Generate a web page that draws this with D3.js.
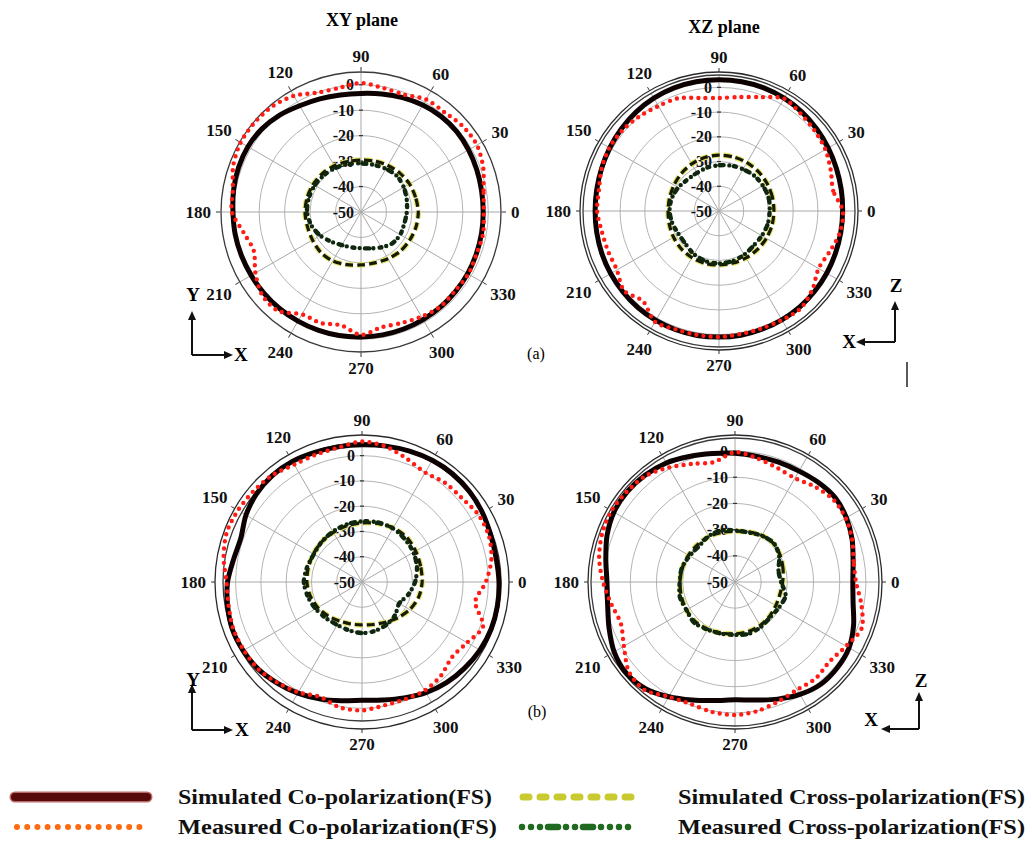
<!DOCTYPE html>
<html>
<head>
<meta charset="utf-8">
<script src="https://cdn.jsdelivr.net/npm/d3@7"></script>
<style>
  body { margin: 0; background: #fff; }
  text { font-family: 'Liberation Serif', 'Times New Roman', serif; }
</style>
</head>
<body>
<div id="chart"></div>
<script>
//
// data: angles (deg) and gains (dB)
//
var angles10 = [0, 10, 20, 30, 40, 50, 60, 70, 80, 90, 100, 110, 120, 130, 140, 150, 160, 170,
                180, 190, 200, 210, 220, 230, 240, 250, 260, 270, 280, 290, 300, 310, 320, 330, 340, 350]
var angles15 = [0, 15, 30, 45, 60, 75, 90, 105, 120, 135, 150, 165,
                180, 195, 210, 225, 240, 255, 270, 285, 300, 315, 330, 345]
var angleTicks = [0, 30, 60, 90, 120, 150, 180, 210, 240, 270, 300, 330]
var dbTicks = [0, -10, -20, -30, -40, -50]
var titles = ['XY plane', 'XZ plane']
var legendLabels = ['Simulated Co-polarization(FS)', 'Simulated Cross-polarization(FS)',
                    'Measured Co-polarization(FS)', 'Measured Cross-polarization(FS)']
//
// (a) XY plane
//
var simCoXYa = [-2.0, -1.9, -1.6, -1.2, -0.9, -1.0, -1.5, -2.2, -2.9, -3.4, -3.3, -2.7, -1.8, -0.3, 0.8, 1.3, 1.2, 0.8,
                0.3, 0.2, 0.0, -0.2, -0.3, -0.4, -0.5, -0.6, -0.7, -0.9, -1.0, -1.1, -1.2, -1.3, -1.5, -1.6, -1.8, -1.9]
var measCoXYa = [-1.8, -1.1, 1.1, 2.6, 2.3, 1.1, 1.1, -0.9, -0.5, 0.7, -0.5, -0.1, 2.7, 4.2, 4.6, 4.6, 3.4, 1.1,
                 0.7, -3.2, -5.2, -2.1, 0.7, 0.7, -3.6, -3.6, -4.8, -1.7, -4.0, -3.6, -2.5, -1.5, -1.8, -1.3, -1.7, -1.3]
var simCrossXYa = [-27.5, -27.8, -28.0, -28.4, -28.9, -29.3, -29.6, -29.5, -29.0, -28.6, -28.3, -28.1,
                   -28.0, -28.2, -28.0, -27.6, -27.8, -28.6, -29.2, -29.3, -28.8, -28.2, -27.9, -27.6]
var measCrossXYa = [-32.0, -31.4, -30.6, -30.0, -30.4, -30.8, -30.9, -30.5, -30.0, -29.5, -29.0, -28.8,
                    -28.8, -29.8, -31.5, -33.5, -35.0, -35.6, -35.8, -35.2, -34.0, -32.6, -32.2, -32.4]
//
// (a) XZ plane
//
var simCoXZa = [0.0, 0.2, 0.5, 1.0, 1.6, 2.2, 2.7, 3.0, 3.1, 3.1, 3.1, 3.0, 2.7, 2.2, 1.6, 1.0, 0.5, 0.2,
                0.1, 0.2, 0.4, 0.6, 0.8, 1.0, 1.1, 1.1, 1.1, 1.0, 1.0, 0.9, 0.8, 0.7, 0.5, 0.3, 0.1, 0.0]
var measCoXZa = [0.1, -3.1, -1.9, -0.3, 0.5, 1.4, 2.5, -1.0, -3.2, -4.3, -3.6, -1.5, -1.0, 0.0, 0.9, 1.2, 0.5, -0.7,
                 -0.7, -1.9, -2.3, -2.3, 0.1, -2.3, 1.8, 0.9, 0.9, 0.9, 0.5, 0.5, 0.9, 1.4, -0.7, -3.5, -2.3, -0.3]
var simCrossXZa = [-27.8, -27.7, -27.6, -27.5, -27.4, -27.4, -27.4, -27.6, -28.0, -28.5, -29.0, -29.3,
                   -29.4, -29.2, -28.8, -28.4, -28.2, -28.1, -28.2, -28.2, -28.1, -28.0, -27.9, -27.8]
var measCrossXZa = [-29.5, -29.2, -29.5, -29.8, -30.5, -31.0, -31.5, -31.8, -32.2, -32.0, -31.0, -30.2,
                    -30.0, -30.5, -31.2, -31.0, -29.8, -29.0, -28.8, -29.0, -29.6, -30.2, -30.0, -29.6]
//
// (b) XY plane
//
var simCoXYb = [4.2, 3.9, 4.2, 5.0, 5.6, 5.8, 5.6, 5.1, 4.6, 4.3, 4.3, 4.6, 5.1, 5.1, 4.4, 3.0, 1.0, 1.6,
                3.2, 4.0, 4.6, 4.3, 3.6, 2.2, 0.8, -0.8, -2.3, -3.2, -2.6, -1.2, 0.6, 2.0, 3.0, 3.9, 4.4, 4.4]
var measCoXYb = [-1.0, 2.0, 3.4, 3.2, 1.6, 1.2, 0.0, 1.9, 4.4, 5.6, 4.0, 3.6, 3.6, 5.2, 6.0, 6.7, 7.0, 5.6,
                 3.6, 3.6, 4.2, 4.0, 3.6, 2.0, 0.4, -1.6, 0.4, 0.8, -0.4, -0.6, -0.4, -1.5, -3.6, -2.0, 1.0, -4.5]
var simCrossXYb = [-26.2, -26.0, -25.5, -25.0, -25.3, -26.0, -26.6, -27.0, -27.3, -27.5, -27.8, -28.0,
                   -28.2, -28.8, -29.8, -31.0, -32.2, -32.8, -33.0, -32.6, -31.6, -30.0, -28.2, -26.8]
var measCrossXYb = [-29.0, -27.5, -26.5, -26.0, -25.5, -25.6, -26.0, -26.4, -27.0, -27.5, -28.0, -27.5,
                    -27.0, -27.8, -28.8, -29.8, -30.4, -30.2, -29.8, -30.0, -30.6, -31.5, -33.0, -31.0]
//
// (b) XZ plane
//
var simCoXZb = [-5.0, -4.2, -2.4, -0.9, 0.0, -0.4, -1.1, -1.3, -1.3, -0.8, -0.2, 1.0, 2.5, 3.3, 3.7, 3.4, 2.0, 0.1,
                -1.1, -0.6, 1.2, 3.3, 4.2, 3.2, 0.6, -2.0, -4.0, -5.0, -4.2, -2.4, -0.4, 1.0, 1.0, 0.3, -1.8, -4.2]
var measCoXZb = [-3.8, -4.0, -2.4, -1.2, -1.0, -2.5, -4.2, -3.5, -2.0, -0.4, -3.5, -2.0, 0.5, 3.0, 3.8, 4.5, 4.0, 2.7,
                 0.4, -2.0, -3.6, -1.0, 3.0, 3.8, 0.6, -0.4, 0.4, 0.8, 0.0, -1.5, -2.5, -2.0, -2.8, -1.0, 1.5, -1.0]
var simCrossXZb = [-31.8, -31.0, -30.0, -29.2, -29.5, -30.2, -30.6, -30.4, -30.0, -29.8, -29.5, -29.2,
                   -29.0, -28.8, -28.6, -28.6, -29.2, -29.8, -30.2, -30.4, -30.8, -31.4, -32.0, -32.2]
var measCrossXZb = [-32.4, -32.8, -30.5, -29.0, -29.6, -30.4, -30.3, -29.6, -29.8, -30.6, -30.0, -29.0,
                    -28.9, -28.2, -28.6, -28.0, -29.0, -29.6, -29.8, -29.5, -30.2, -31.0, -30.6, -30.0]
//
// layout of the four polar panels
//
var panels = [
  {cx: 361, cy: 212, rmax: 140, frame: 141, sim: simCoXYa, meas: measCoXYa, simX: simCrossXYa, measX: measCrossXYa},
  {cx: 719, cy: 211, rmax: 136, frame: 139, sim: simCoXZa, meas: measCoXZa, simX: simCrossXZa, measX: measCrossXZa},
  {cx: 362, cy: 582, rmax: 139, frame: 147, sim: simCoXYb, meas: measCoXYb, simX: simCrossXYb, measX: measCrossXYb},
  {cx: 735, cy: 582, rmax: 144, frame: 147, sim: simCoXZb, meas: measCoXZb, simX: simCrossXZb, measX: measCrossXZb}
]

var svg = d3.select('#chart').append('svg')
  .attr('width', 1032)
  .attr('height', 841)
  .style('display', 'block')

var rad = function(a) { return a * Math.PI / 180 }

//
// one polar panel
//
function drawPanel(p) {
  var g = svg.append('g').attr('transform', 'translate(' + p.cx + ',' + p.cy + ')')
  var r = d3.scaleLinear().domain([-50, 5]).range([0, p.rmax])
  var outer = Math.max(p.frame, p.rmax)

  // grid rings
  g.selectAll('circle.ring').data(dbTicks.filter(function(d) { return d > -50 }))
    .enter().append('circle')
    .attr('r', function(d) { return r(d) })
    .attr('fill', 'none').attr('stroke', '#b4b4b4').attr('stroke-width', 1)

  // spokes
  g.selectAll('line.spoke').data(angleTicks).enter().append('line')
    .attr('x1', 0).attr('y1', 0)
    .attr('x2', function(d) { return r(5) * Math.cos(rad(d)) })
    .attr('y2', function(d) { return -r(5) * Math.sin(rad(d)) })
    .attr('stroke', '#a8a8a8').attr('stroke-width', 1)

  // outer circles
  g.append('circle').attr('r', r(5)).attr('fill', 'none').attr('stroke', '#3a3a3a').attr('stroke-width', 1.3)
  if (p.frame - p.rmax > 2) {
    g.append('circle').attr('r', p.frame).attr('fill', 'none').attr('stroke', '#2a2a2a').attr('stroke-width', 1.3)
  }

  // ticks on outer circle
  g.selectAll('line.otick').data(angleTicks).enter().append('line')
    .attr('x1', function(d) { return outer * Math.cos(rad(d)) })
    .attr('y1', function(d) { return -outer * Math.sin(rad(d)) })
    .attr('x2', function(d) { return (outer + 4) * Math.cos(rad(d)) })
    .attr('y2', function(d) { return -(outer + 4) * Math.sin(rad(d)) })
    .attr('stroke', '#333').attr('stroke-width', 1)

  // small ticks on the 90 deg spoke
  g.selectAll('line.rtick').data(dbTicks.filter(function(d) { return d > -50 }))
    .enter().append('line')
    .attr('x1', -2).attr('x2', 2)
    .attr('y1', function(d) { return -r(d) }).attr('y2', function(d) { return -r(d) })
    .attr('stroke', '#333').attr('stroke-width', 1.2)

  // angle labels
  g.selectAll('text.ang').data(angleTicks).enter().append('text')
    .attr('font-size', 17).attr('font-weight', 'bold').attr('fill', '#111')
    .attr('text-anchor', 'middle')
    .text(function(d) { return d })
    .each(function(d) {
      var w = this.getComputedTextLength()
      var c = Math.cos(rad(d)), s = Math.sin(rad(d))
      var off = outer + 9 + Math.abs(c) * w / 2 + Math.abs(s) * 6
      d3.select(this).attr('x', off * c).attr('y', -off * s + 6)
    })

  // radial labels
  g.selectAll('text.db').data(dbTicks).enter().append('text')
    .attr('font-size', 16).attr('font-weight', 'bold').attr('fill', '#111')
    .attr('text-anchor', 'end')
    .attr('x', -7)
    .attr('y', function(d) { return -r(d) + 5.5 })
    .text(function(d) { return d })

  var line = function(angles) {
    return d3.lineRadial()
      .angle(function(d, i) { return rad(90 - angles[i]) })
      .radius(function(d) { return r(d) })
      .curve(d3.curveCardinalClosed.tension(0.15))
  }

  // simulated cross-polarization: yellow dashes with dark core
  g.append('path').attr('d', line(angles15)(p.simX))
    .attr('fill', 'none').attr('stroke', '#e4e46a').attr('stroke-width', 5.5)
    .attr('stroke-dasharray', '8 4')
  g.append('path').attr('d', line(angles15)(p.simX))
    .attr('fill', 'none').attr('stroke', '#161a05').attr('stroke-width', 3.2)
    .attr('stroke-dasharray', '8 4')

  // measured cross-polarization: dark dot-dash
  g.append('path').attr('d', line(angles15)(p.measX))
    .attr('fill', 'none').attr('stroke', '#0f260f').attr('stroke-width', 4.4)
    .attr('stroke-linecap', 'round')
    .attr('stroke-dasharray', '0 5.5 4 4.5 0 6 2 5')

  // simulated co-polarization
  g.append('path').attr('d', line(angles10)(p.sim))
    .attr('fill', 'none').attr('stroke', '#0c0000').attr('stroke-width', 5)

  // measured co-polarization: red dots
  g.append('path').attr('d', line(angles10)(p.meas))
    .attr('fill', 'none').attr('stroke', '#ff1c14').attr('stroke-width', 4.4)
    .attr('stroke-linecap', 'round')
    .attr('stroke-dasharray', '0 7.2')
}

panels.forEach(drawPanel)

//
// titles and panel tags
//
svg.append('text').attr('x', 362).attr('y', 26).attr('text-anchor', 'middle')
  .attr('font-size', 18).attr('font-weight', 'bold').text(titles[0])
svg.append('text').attr('x', 724).attr('y', 33).attr('text-anchor', 'middle')
  .attr('font-size', 18).attr('font-weight', 'bold').text(titles[1])
svg.append('text').attr('x', 536).attr('y', 359).attr('text-anchor', 'middle')
  .attr('font-size', 16).text('(a)')
svg.append('text').attr('x', 537).attr('y', 717).attr('text-anchor', 'middle')
  .attr('font-size', 16).text('(b)')
svg.append('line').attr('x1', 907).attr('x2', 907).attr('y1', 362).attr('y2', 387)
  .attr('stroke', '#222').attr('stroke-width', 1.5)

//
// coordinate arrows
//
function arrow(x1, y1, x2, y2) {
  var a = Math.atan2(y2 - y1, x2 - x1)
  var L = 9, W = 4
  svg.append('line').attr('x1', x1).attr('y1', y1)
    .attr('x2', x2 - Math.cos(a) * L * 0.6).attr('y2', y2 - Math.sin(a) * L * 0.6)
    .attr('stroke', '#111').attr('stroke-width', 2)
  var bx = x2 - Math.cos(a) * L, by = y2 - Math.sin(a) * L
  svg.append('path')
    .attr('d', 'M' + x2 + ',' + y2 +
      'L' + (bx - Math.sin(a) * W) + ',' + (by + Math.cos(a) * W) +
      'L' + (bx + Math.sin(a) * W) + ',' + (by - Math.cos(a) * W) + 'Z')
    .attr('fill', '#111')
}
function axisLabel(x, y, s, anchor) {
  svg.append('text').attr('x', x).attr('y', y).attr('text-anchor', anchor)
    .attr('font-size', 19).attr('font-weight', 'bold').text(s)
}
// (a) XY
arrow(192, 355, 192, 311); arrow(192, 355, 233, 355)
axisLabel(193, 301, 'Y', 'middle'); axisLabel(234, 361, 'X', 'start')
// (a) XZ
arrow(895, 342, 895, 301); arrow(895, 342, 856, 342)
axisLabel(896, 292, 'Z', 'middle'); axisLabel(856, 348, 'X', 'end')
// (b) XY
arrow(192, 730, 192, 684); arrow(192, 730, 233, 730)
axisLabel(193, 686, 'Y', 'middle'); axisLabel(235, 736, 'X', 'start')
// (b) XZ
arrow(919, 729, 919, 692); arrow(919, 729, 881, 729)
axisLabel(921, 687, 'Z', 'middle'); axisLabel(878, 726, 'X', 'end')

//
// legend
//
var lg = svg.append('g')
// simulated co-pol
lg.append('line').attr('x1', 15).attr('x2', 147).attr('y1', 797).attr('y2', 797)
  .attr('stroke', '#b86a6a').attr('stroke-width', 11).attr('stroke-linecap', 'round')
lg.append('line').attr('x1', 15).attr('x2', 147).attr('y1', 797).attr('y2', 797)
  .attr('stroke', '#560a0a').attr('stroke-width', 8).attr('stroke-linecap', 'round')
// simulated cross-pol
lg.append('line').attr('x1', 523).attr('x2', 640).attr('y1', 797).attr('y2', 797)
  .attr('stroke', '#c9c930').attr('stroke-width', 7).attr('stroke-linecap', 'round')
  .attr('stroke-dasharray', '6 11')
// measured co-pol
lg.append('line').attr('x1', 17).attr('x2', 140).attr('y1', 827).attr('y2', 827)
  .attr('stroke', '#ff6a10').attr('stroke-width', 6).attr('stroke-linecap', 'round')
  .attr('stroke-dasharray', '0 10.2')
// measured cross-pol
lg.append('line').attr('x1', 522).attr('x2', 636).attr('y1', 827).attr('y2', 827)
  .attr('stroke', '#1f6a1f').attr('stroke-width', 6.5).attr('stroke-linecap', 'round')
  .attr('stroke-dasharray', '0 9 0 9 0 8 10 8 0 9 0 8 10 8 0 9 0 9')

var lx = [178, 678, 178, 678], ly = [804, 804, 834, 834], lw = [314, 347, 319, 347]
lg.selectAll('text').data(legendLabels).enter().append('text')
  .attr('x', function(d, i) { return lx[i] })
  .attr('y', function(d, i) { return ly[i] })
  .attr('font-size', 21).attr('font-weight', 'bold').attr('fill', '#111')
  .attr('textLength', function(d, i) { return lw[i] })
  .attr('lengthAdjust', 'spacingAndGlyphs')
  .text(function(d) { return d })
</script>
</body>
</html>
